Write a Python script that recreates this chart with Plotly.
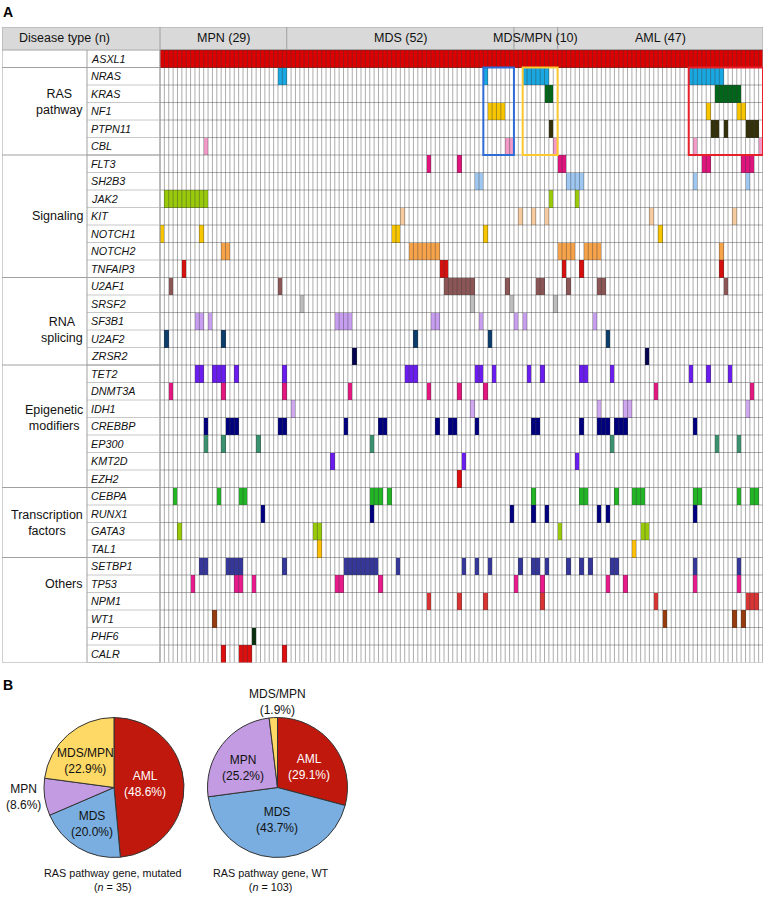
import plotly.graph_objects as go

# ---------------- data ----------------
disease_types = ["MPN", "MDS", "MDS/MPN", "AML"]
disease_n = [29, 52, 10, 47]

genes = ["ASXL1", "NRAS", "KRAS", "NF1", "PTPN11", "CBL", "FLT3", "SH2B3", "JAK2", "KIT",
         "NOTCH1", "NOTCH2", "TNFAIP3", "U2AF1", "SRSF2", "SF3B1", "U2AF2", "ZRSR2", "TET2",
         "DNMT3A", "IDH1", "CREBBP", "EP300", "KMT2D", "EZH2", "CEBPA", "RUNX1", "GATA3",
         "TAL1", "SETBP1", "TP53", "NPM1", "WT1", "PHF6", "CALR"]
gene_colors = ["#dc0000", "#19a8e2", "#00661a", "#f7c600", "#33300a", "#f49ac8", "#e0147c",
               "#9ec8f2", "#9acb0a", "#f7cba0", "#f7c600", "#f7a34a", "#d60f0f", "#8c5656",
               "#bdbdbd", "#c79ef0", "#0c3d6b", "#05054f", "#6b1df0", "#e3177f", "#cfa8f0",
               "#00007f", "#3b9270", "#6b1df0", "#e00f0f", "#22b526", "#000080", "#9acb0a",
               "#ffc107", "#35379a", "#e81a8c", "#d93535", "#963c0f", "#0a3010", "#e00f0f"]

group_names = ["", "RAS<br>pathway", "Signaling", "RNA<br>splicing", "Epigenetic<br>modifiers",
               "Transcription<br>factors", "Others"]
group_sizes = [1, 5, 7, 5, 7, 4, 6]
group_label_rows = [0, 2.5, 9, 15.5, 20.5, 26.5, 30]

# mutated sample (column) indices per gene
ASXL1 = list(range(138))
NRAS = [27, 28, 74, 83, 84, 85, 86, 87, 88, 121, 122, 123, 124, 125, 126, 127, 128]
KRAS = [88, 89, 127, 128, 129, 130, 131, 132]
NF1 = [75, 76, 77, 78, 125, 132, 133]
PTPN11 = [89, 126, 127, 129, 134, 135, 136]
CBL = [10, 79, 80, 90, 122, 137]
FLT3 = [61, 68, 91, 92, 124, 125, 133, 134, 135]
SH2B3 = [72, 73, 93, 94, 95, 96, 122, 134]
JAK2 = [1, 2, 3, 4, 5, 6, 7, 8, 9, 10, 89, 95]
KIT = [55, 82, 85, 88, 112, 131]
NOTCH1 = [0, 9, 53, 54, 74, 114]
NOTCH2 = [14, 15, 57, 58, 59, 60, 61, 62, 63, 91, 92, 93, 94, 97, 98, 99, 100, 128]
TNFAIP3 = [5, 64, 65, 92, 96, 128]
U2AF1 = [2, 27, 65, 66, 67, 68, 69, 70, 71, 79, 86, 87, 93, 100, 101, 129]
SRSF2 = [32, 71, 80, 90]
SF3B1 = [8, 9, 11, 40, 41, 42, 43, 62, 63, 73, 81, 83, 99]
U2AF2 = [1, 14, 58, 75, 102]
ZRSR2 = [44, 111]
TET2 = [8, 9, 12, 13, 14, 17, 28, 56, 57, 58, 72, 73, 76, 84, 87, 96, 97, 103, 121, 125, 130]
DNMT3A = [2, 14, 28, 43, 61, 68, 74, 113, 135]
IDH1 = [30, 71, 100, 106, 107, 134]
CREBBP = [10, 15, 16, 17, 27, 28, 42, 50, 51, 63, 66, 67, 72, 85, 86, 96, 100, 101, 102,
          104, 105, 106, 122]
EP300 = [10, 14, 22, 48, 103, 127, 132]
KMT2D = [39, 69, 95]
EZH2 = [68]
CEBPA = [3, 13, 18, 19, 48, 49, 50, 52, 85, 96, 97, 104, 108, 109, 110, 122, 123, 132, 135, 136]
RUNX1 = [23, 48, 80, 85, 88, 100, 102, 122]
GATA3 = [4, 35, 36, 91, 110, 111]
TAL1 = [36, 108]
SETBP1 = [9, 10, 15, 16, 17, 18, 28, 42, 43, 44, 45, 46, 47, 48, 49, 54, 69, 72, 75, 82, 85,
          86, 88, 93, 96, 98, 103, 104, 122, 132]
TP53 = [7, 17, 18, 21, 40, 41, 50, 81, 87, 102, 106, 122, 132]
NPM1 = [61, 68, 74, 87, 113, 134, 135, 136]
WT1 = [12, 115, 131, 133]
PHF6 = [21]
CALR = [14, 18, 19, 20, 28]

mutations = [ASXL1, NRAS, KRAS, NF1, PTPN11, CBL, FLT3, SH2B3, JAK2, KIT, NOTCH1, NOTCH2,
             TNFAIP3, U2AF1, SRSF2, SF3B1, U2AF2, ZRSR2, TET2, DNMT3A, IDH1, CREBBP, EP300,
             KMT2D, EZH2, CEBPA, RUNX1, GATA3, TAL1, SETBP1, TP53, NPM1, WT1, PHF6, CALR]

box_colors = [None, "#2d6bd6", "#ffc82e", "#e8202a"]

pie_labels = ["AML", "MDS", "MPN", "MDS/MPN"]
pie_colors = ["#c0180c", "#7aaee0", "#c39be2", "#ffd966"]
ras_mut_pct = [48.6, 20.0, 8.6, 22.9]
ras_wt_pct = [29.1, 43.7, 25.2, 1.9]
pie_captions = ["RAS pathway gene, mutated<br>(<i>n</i> = 35)", "RAS pathway gene, WT<br>(<i>n</i> = 103)"]

# ---------------- layout geometry ----------------
W, H = 766, 897
FONT = "Arial, Liberation Sans, sans-serif"
ncol = sum(disease_n)
nrow = len(genes)
GRID_L, GRID_R, LEFT = 160, 763, 2
ppu = (GRID_R - GRID_L) / ncol
XMIN = (LEFT - GRID_L) / ppu
SEP = (87 - GRID_L) / ppu
TOP_PX, ROW0_PX, ROWH = 27, 50, 17.5
YTOP = -0.5 - (ROW0_PX - TOP_PX) / ROWH
BOT_PX = ROW0_PX + ROWH * nrow


def px_x(px):
    return px / W


def px_y(py):
    return 1 - py / H


fig = go.Figure()

# mutation matrix
z = [[0] * ncol for _ in genes]
for r, cols in enumerate(mutations):
    for c in cols:
        z[r][c] = r + 1
nlev = nrow + 1
cs = []
for k in range(nlev):
    col = "#ffffff" if k == 0 else gene_colors[k - 1]
    cs.append([k / nlev, col])
    cs.append([(k + 1) / nlev, col])
fig.add_trace(go.Heatmap(z=z, x=[c + 0.5 for c in range(ncol)], y=list(range(nrow)),
                         colorscale=cs, zmin=-0.5, zmax=nlev - 0.5, showscale=False,
                         hoverinfo="skip", xaxis="x", yaxis="y"))

# grid lines over cells
gx, gy = [], []
for c in range(ncol + 1):
    gx += [c, c, None]
    gy += [-0.5, nrow - 0.5, None]
for r in range(nrow + 1):
    gx += [0, ncol, None]
    gy += [r - 0.5, r - 0.5, None]
fig.add_trace(go.Scatter(x=gx, y=gy, mode="lines", line=dict(color="rgba(60,60,60,0.42)", width=1),
                         hoverinfo="skip", showlegend=False))

shapes = []
# header
shapes.append(dict(type="rect", xref="x", yref="y", x0=XMIN, x1=ncol, y0=YTOP, y1=-0.5,
                   fillcolor="#d9d9d9", line=dict(color="#a6a6a6", width=1), layer="below"))
bounds = [0]
for n in disease_n:
    bounds.append(bounds[-1] + n)
for b in bounds[:-1]:
    shapes.append(dict(type="line", xref="x", yref="y", x0=b, x1=b, y0=YTOP, y1=-0.5,
                       line=dict(color="#a0a0a0", width=1)))

# gene label column lines
for r in range(nrow + 1):
    shapes.append(dict(type="line", xref="x", yref="y", x0=SEP, x1=0, y0=r - 0.5, y1=r - 0.5,
                       line=dict(color="#c8c8c8", width=1)))
# group separators
gb = 0
for s in group_sizes:
    gb += s
    shapes.append(dict(type="line", xref="x", yref="y", x0=XMIN, x1=0, y0=gb - 0.5, y1=gb - 0.5,
                       line=dict(color="#a0a0a0", width=1)))
for xv in [XMIN, SEP, 0]:
    shapes.append(dict(type="line", xref="x", yref="y", x0=xv, x1=xv, y0=-0.5, y1=nrow - 0.5,
                       line=dict(color="#a0a0a0", width=1)))
shapes.append(dict(type="line", xref="x", yref="y", x0=ncol, x1=ncol, y0=-0.5, y1=nrow - 0.5,
                   line=dict(color="#a0a0a0", width=1)))

# boxes around RAS-pathway mutated samples
ras_rows = range(1, 6)
for gi in range(len(disease_n)):
    if box_colors[gi] is None:
        continue
    lo, hi = bounds[gi], bounds[gi + 1]
    cols = sorted({c for r in ras_rows for c in mutations[r] if lo <= c < hi})
    shapes.append(dict(type="rect", xref="x", yref="y", x0=cols[0], x1=cols[-1] + 1,
                       y0=0.5, y1=5.5, line=dict(color=box_colors[gi], width=2)))

ann = []
C = dict(xanchor="center", yanchor="middle", showarrow=False)
# header texts
ann.append(dict(x=(64 - GRID_L) / ppu, y=(YTOP - 0.5) / 2, xref="x", yref="y", text="Disease type (n)",
                font=dict(size=12.5, color="#111", family=FONT), **C))
for gi, name in enumerate(disease_types):
    ann.append(dict(x=(bounds[gi] + bounds[gi + 1]) / 2, y=(YTOP - 0.5) / 2, xref="x", yref="y",
                    text=f"{name} ({disease_n[gi]})",
                    font=dict(size=12.5, color="#111", family=FONT), **C))
# gene labels
for r, g in enumerate(genes):
    ann.append(dict(x=SEP + 0.45, y=r, xref="x", yref="y", text=f"<i>{g}</i>", xanchor="left",
                    yanchor="middle", showarrow=False, font=dict(size=10.8, color="#111", family=FONT)))
# group labels
for name, yr in zip(group_names, group_label_rows):
    if name:
        ann.append(dict(x=SEP - 0.5, y=yr, xref="x", yref="y", text=name, xanchor="right",
                        yanchor="middle", align="center", showarrow=False,
                        font=dict(size=12.5, color="#111", family=FONT)))
# panel letters
ann.append(dict(x=px_x(8), y=px_y(12), xref="paper", yref="paper", text="<b>A</b>",
                font=dict(size=14, color="#000", family=FONT), **C))
ann.append(dict(x=px_x(8), y=px_y(685), xref="paper", yref="paper", text="<b>B</b>",
                font=dict(size=14, color="#000", family=FONT), **C))

# pies
pie_centers = [(114, 787.5), (277.5, 787.5)]
pie_r = 70
for (cx, cy), vals in zip(pie_centers, [ras_mut_pct, ras_wt_pct]):
    fig.add_trace(go.Pie(labels=pie_labels, values=vals, sort=False, direction="clockwise",
                         rotation=0, marker=dict(colors=pie_colors, line=dict(color="#333", width=1)),
                         textinfo="none", hoverinfo="skip", showlegend=False,
                         domain=dict(x=[px_x(cx - pie_r), px_x(cx + pie_r)],
                                     y=[px_y(cy + pie_r), px_y(cy - pie_r)])))

pie_label_pos = [
    [(145, 784, "white"), (92, 824, "#111"), (24, 797, "#111"), (85, 761, "#111")],
    [(309, 767, "white"), (277, 820, "#111"), (243, 768, "#111"), (277, 702, "#111")],
]
for pos, vals in zip(pie_label_pos, [ras_mut_pct, ras_wt_pct]):
    for (lx, ly, col), lab, v in zip(pos, pie_labels, vals):
        ann.append(dict(x=px_x(lx), y=px_y(ly), xref="paper", yref="paper",
                        text=f"{lab}<br>({v:.1f}%)",
                        font=dict(size=12, color=col, family=FONT), **C))
for (cx, cy), cap in zip([(112, 880), (271, 880)], pie_captions):
    ann.append(dict(x=px_x(cx), y=px_y(cy), xref="paper", yref="paper", text=cap,
                    font=dict(size=10.8, color="#111", family=FONT), **C))

fig.update_layout(
    width=W, height=H, margin=dict(l=0, r=0, t=0, b=0),
    paper_bgcolor="white", plot_bgcolor="white",
    xaxis=dict(domain=[px_x(LEFT), px_x(GRID_R)], range=[XMIN, ncol], showgrid=False,
               zeroline=False, showticklabels=False, ticks="", fixedrange=True),
    yaxis=dict(domain=[px_y(BOT_PX), px_y(TOP_PX)], range=[nrow - 0.5, YTOP], showgrid=False,
               zeroline=False, showticklabels=False, ticks="", fixedrange=True),
    shapes=shapes, annotations=ann, showlegend=False,
)

fig.write_html("out.html", config={"displayModeBar": False},
               post_script="document.body.style.margin='0px';document.body.style.padding='0px';")
